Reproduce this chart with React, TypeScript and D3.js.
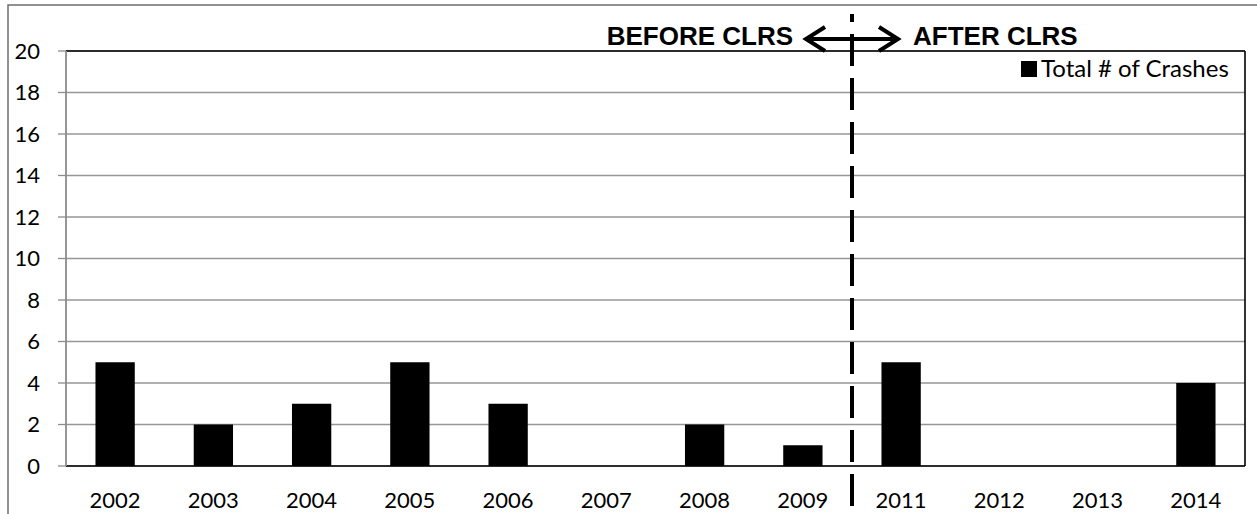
import React from 'react';
import * as d3 from 'd3';

const years = ['2002', '2003', '2004', '2005', '2006', '2007', '2008', '2009', '2011', '2012', '2013', '2014'];
const crashes = [5, 2, 3, 5, 3, 0, 2, 1, 5, 0, 0, 4];
const yTicks = [0, 2, 4, 6, 8, 10, 12, 14, 16, 18, 20];
const seriesName = 'Total # of Crashes';
const beforeLabel = 'BEFORE CLRS';
const afterLabel = 'AFTER CLRS';
const dividerYear = '2011';

const W = 1257;
const H = 514;
const margin = { top: 51, right: 12, bottom: 48, left: 66 };

export default function App() {
  const innerW = W - margin.left - margin.right;
  const innerH = H - margin.top - margin.bottom;

  const x = d3.scaleBand<string>().domain(years).range([0, innerW]).padding(0);
  const y = d3.scaleLinear().domain([0, 20]).range([innerH, 0]);
  const barW = x.bandwidth() * 0.4;

  const tickFont = 'Lato, "Open Sans", sans-serif';
  const boldFont = '"Liberation Sans", Arial, sans-serif';

  const divX = margin.left + (x(dividerYear) as number);
  const arrowY = 39;
  const arrowL = 803;
  const arrowR = 901;

  return (
    <svg width={W} height={H} style={{ position: 'absolute', left: 0, top: 0, background: '#fff' }}>
      {/* outer chart frame */}
      <rect x={8} y={5} width={W + 20} height={H + 20} fill="#fff" stroke="#6e6e6e" strokeWidth={1.5} />

      <g transform={`translate(${margin.left},${margin.top})`}>
        {/* gridlines */}
        {yTicks.map(t => (
          <line key={t} x1={0} x2={innerW} y1={y(t)} y2={y(t)} stroke="#969696" strokeWidth={1.3} />
        ))}
        {/* y tick marks + labels */}
        {yTicks.map(t => (
          <g key={'yt' + t}>
            <line x1={-8} x2={0} y1={y(t)} y2={y(t)} stroke="#8c8c8c" strokeWidth={1.3} />
            <text x={-26} y={y(t)} dy="0.36em" textAnchor="end" fontFamily={tickFont} fontSize={22} fill="#000">
              {t}
            </text>
          </g>
        ))}

        {/* bars */}
        {years.map((yr, i) => (
          <rect
            key={yr}
            x={(x(yr) as number) + (x.bandwidth() - barW) / 2}
            y={y(crashes[i])}
            width={barW}
            height={innerH - y(crashes[i])}
            fill="#000"
          />
        ))}

        {/* plot box: black top/right/bottom, grey left axis */}
        <line x1={0} x2={innerW} y1={0} y2={0} stroke="#000" strokeWidth={1.6} />
        <line x1={innerW} x2={innerW} y1={0} y2={innerH} stroke="#000" strokeWidth={1.6} />
        <line x1={0} x2={innerW} y1={innerH} y2={innerH} stroke="#000" strokeWidth={1.6} />
        <line x1={0} x2={0} y1={0} y2={innerH} stroke="#8c8c8c" strokeWidth={1.8} />

        {/* x labels */}
        {years.map(yr => (
          <text
            key={'xl' + yr}
            x={(x(yr) as number) + x.bandwidth() / 2}
            y={innerH + 42}
            textAnchor="middle"
            fontFamily={tickFont}
            fontSize={22}
            fill="#000"
          >
            {yr}
          </text>
        ))}

        {/* legend */}
        <rect x={955} y={10} width={16} height={16} fill="#000" />
        <text x={975} y={26} fontFamily={tickFont} fontSize={24} fill="#000">
          {seriesName}
        </text>
      </g>

      {/* divider */}
      <line
        x1={divX}
        x2={divX}
        y1={14}
        y2={506}
        stroke="#000"
        strokeWidth={4}
        strokeDasharray="32 12"
        strokeDashoffset={24}
      />

      {/* before / after annotation */}
      <text x={793} y={45} textAnchor="end" fontFamily={boldFont} fontWeight="bold" fontSize={26} fill="#000">
        {beforeLabel}
      </text>
      <text x={913} y={45} fontFamily={boldFont} fontWeight="bold" fontSize={26} fill="#000">
        {afterLabel}
      </text>
      <g stroke="#000" strokeWidth={4} fill="none" strokeLinecap="butt" strokeLinejoin="miter">
        <line x1={arrowL + 2} x2={arrowR - 2} y1={arrowY} y2={arrowY} />
        <polyline points={`${arrowL + 22},${arrowY - 12} ${arrowL + 3},${arrowY} ${arrowL + 22},${arrowY + 12}`} />
        <polyline points={`${arrowR - 22},${arrowY - 12} ${arrowR - 3},${arrowY} ${arrowR - 22},${arrowY + 12}`} />
      </g>
    </svg>
  );
}
